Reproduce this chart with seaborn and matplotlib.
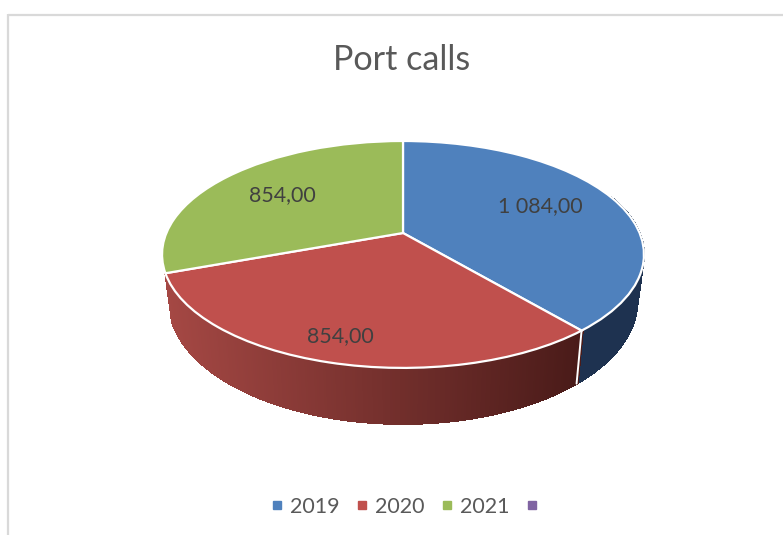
import numpy as np
import matplotlib
matplotlib.use('Agg')
import matplotlib.pyplot as plt
from matplotlib.lines import Line2D
from matplotlib.transforms import Transform
import seaborn as sns

title = 'Port calls'
categories = ['2019', '2020', '2021', '']
values = [1084, 854, 854]
colors = ['#4F81BD', '#C0504D', '#9BBB59', '#8064A2']

sns.set_theme(style='white')
plt.rcParams['font.family'] = ['Lato', 'DejaVu Sans']

# pie centre and tilt, in pixels of the picture
CX, CY = 403, 233
RX, RY, TILT = 236.6, 109.4, 0.189
DEPTH = 45.4
SHRINK = 0.972


def project(x, y):
    d = 1 + TILT * y
    return CX + RX * x / d, CY - RY * y / d


class Tilted(Transform):
    input_dims = 2
    output_dims = 2

    def transform_non_affine(self, xy):
        xy = np.asarray(xy, dtype=float)
        return np.column_stack(project(xy[:, 0], xy[:, 1]))


def fmt(v):
    return f'{v:,.2f}'.replace(',', ' ').replace('.', ',')


fig = plt.figure(figsize=(7.83, 5.35), dpi=100)
ax = fig.add_axes([0, 0, 1, 1])
wedges, _ = ax.pie(values, colors=colors[:3], startangle=90, counterclock=False,
                   wedgeprops={'edgecolor': 'white', 'linewidth': 1.6})
ax.set_aspect('auto')
ax.set_xlim(0, 783)
ax.set_ylim(535, 0)
ax.axis('off')

tilted = Tilted() + ax.transData
for w in wedges:
    w.set_transform(tilted)
    w.set_zorder(3)

# side wall, strip by strip along the rim; the green wall stays hidden
side_left = np.array([165, 72, 68]) / 255
side_right = np.array([74, 27, 25]) / 255
side_blue = np.array([30, 50, 80]) / 255
for i, w in enumerate(wedges[:2]):
    th = np.radians(np.arange(w.theta1, w.theta2 + 0.5, 0.5))
    for a, b in zip(th[:-1], th[1:]):
        if np.sin(a) > 0.35 and np.sin(b) > 0.35:
            continue
        xa, ya = np.cos(a), np.sin(a)
        xb, yb = np.cos(b), np.sin(b)
        xt, yt = project(np.array([xa, xb]), np.array([ya, yb]))
        xl = CX + (xt - CX) * SHRINK
        yl = yt + DEPTH / (1 + TILT * np.array([ya, yb]))
        if i == 1:
            t = np.clip((xt.mean() - 165) / (581 - 165), 0, 1)
            c = side_left * (1 - t) + side_right * t
        else:
            c = side_blue
        ax.fill([xt[0], xt[1], xl[1], xl[0]], [yt[0], yt[1], yl[1], yl[0]],
                facecolor=c, edgecolor=c, linewidth=0.8, antialiased=False, zorder=1)

# white seam between the blue and red walls
seam = np.radians(wedges[0].theta1)
xs, ys = project(np.cos(seam), np.sin(seam))
ax.plot([xs, CX + (xs - CX) * SHRINK], [ys, ys + DEPTH / (1 + TILT * np.sin(seam))],
        color='white', lw=1.4, zorder=2)

label_pos = [(540, 206), (340, 336), (282, 195)]
for v, (lx, ly) in zip(values, label_pos):
    ax.text(lx, ly, fmt(v), ha='center', va='center', fontsize=15.4, color='#404040', zorder=4)

ax.text(402, 60, title, ha='center', va='center', fontsize=24.6, color='#595959')

# chart frame, only the top and left edges are in the crop
ax.plot([8, 783], [14.5, 14.5], color='#d9d9d9', lw=1.6, solid_capstyle='butt')
ax.plot([8, 8], [14, 535], color='#d9d9d9', lw=1.6, solid_capstyle='butt')

handles = [Line2D([], [], ls='', marker='s', ms=6, color=c, label=n)
           for c, n in zip(colors, categories)]
ax.legend(handles=handles, ncol=4, frameon=False, loc='center',
          bbox_to_anchor=(408 / 783, 1 - 507 / 535), fontsize=15.5,
          labelcolor='#595959', handlelength=0.6, handletextpad=0.3, columnspacing=0.75)

fig.savefig('out.png', dpi=100)
